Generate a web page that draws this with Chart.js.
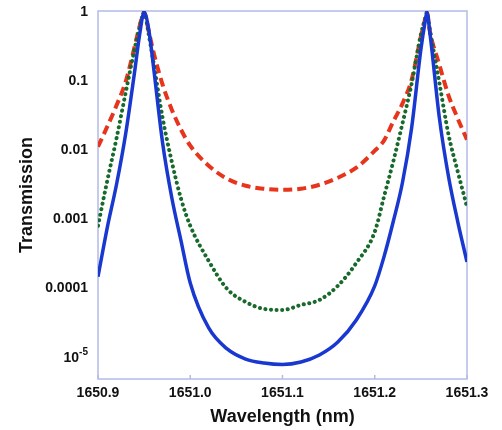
<!DOCTYPE html>
<html>
<head>
<meta charset="utf-8">
<script src="https://cdn.jsdelivr.net/npm/chart.js@4.4.1/dist/chart.umd.min.js"></script>
<style>
  html, body { margin: 0; padding: 0; background: #fff; }
</style>
</head>
<body>
<canvas id="chart" width="502" height="430"></canvas>
<script>
// wavelength samples (nm)
const wavelength = [
  1650.90, 1650.91, 1650.92, 1650.93, 1650.94, 1650.945, 1650.95, 1650.955, 1650.96, 1650.97, 1650.98, 1650.99,
  1651.00, 1651.02, 1651.04, 1651.06, 1651.08, 1651.10, 1651.12, 1651.14, 1651.16, 1651.18, 1651.20,
  1651.21, 1651.22, 1651.23, 1651.24, 1651.25, 1651.255, 1651.2565, 1651.26, 1651.27, 1651.28, 1651.29, 1651.30
];

// blue solid curve
const solidT = [
  1.46e-4, 7.5e-4, 3.16e-3, 0.0174, 0.148, 0.463, 1, 0.566, 0.170, 0.0129, 2.05e-3, 4.85e-4,
  1.19e-4, 2.64e-5, 1.31e-5, 9.35e-6, 8.18e-6, 7.78e-6, 8.46e-6, 1.07e-5, 1.65e-5, 3.45e-5, 1.08e-4,
  2.84e-4, 9.17e-4, 3.38e-3, 0.0213, 0.29, 0.79, 1, 0.479, 0.0298, 4.13e-3, 9.17e-4, 2.40e-4
];

// green dotted curve
const dottedT = [
  8.02e-4, 3.61e-3, 0.01475, 0.0687, 0.310, 0.605, 1, 0.479, 0.194, 0.0298, 6.83e-3, 1.98e-3,
  8.02e-4, 2.48e-4, 9.73e-5, 6.30e-5, 4.99e-5, 4.82e-5, 5.70e-5, 6.73e-5, 1.08e-4, 2.32e-4, 6.56e-4,
  2.12e-3, 6.83e-3, 0.0244, 0.0929, 0.479, 0.846, 1, 0.530, 0.0961, 0.01686, 4.89e-3, 1.51e-3
];

// red dashed curve
const dashedT = [
  0.01128, 0.0220, 0.0445, 0.0993, 0.331, 0.626, 1, 0.530, 0.271, 0.0898, 0.0389, 0.0199,
  0.01166, 5.97e-3, 3.86e-3, 3.06e-3, 2.77e-3, 2.67e-3, 2.77e-3, 3.16e-3, 4.00e-3, 5.59e-3, 9.86e-3,
  0.0138, 0.0260, 0.0476, 0.106, 0.448, 0.846, 1, 0.512, 0.175, 0.0622, 0.0288, 0.01426
];

const xTicks = [1650.9, 1651.0, 1651.1, 1651.2, 1651.3];
const yTickValues = [1e-5, 1e-4, 1e-3, 1e-2, 1e-1, 1];
// null = drawn by hand as 10 with a raised exponent
const yTickLabels = [null, '0.0001', '0.001', '0.01', '0.1', '1'];
const expLabel = { base: '10', exp: '-5', value: 1e-5 };

const toPoints = (ys) => wavelength.map((w, i) => ({ x: w, y: ys[i] }));

const FONT = "'Liberation Sans', Arial, sans-serif";

// light blue box round the plot + small x tick marks inside
const frame = {
  id: 'frame',
  beforeDatasetsDraw(chart) {
    const { ctx, chartArea: a, scales: { x } } = chart;
    ctx.save();
    ctx.strokeStyle = '#b3bbe8';
    ctx.lineWidth = 1.5;
    ctx.strokeRect(a.left, a.top, a.right - a.left, a.bottom - a.top);
    xTicks.forEach(v => {
      const px = x.getPixelForValue(v);
      ctx.beginPath();
      ctx.moveTo(px, a.bottom);
      ctx.lineTo(px, a.bottom - 4);
      ctx.stroke();
    });
    ctx.restore();
  },
  afterDraw(chart) {
    // the 10^-5 tick label with a superscript
    const { ctx, chartArea: a, scales: { y } } = chart;
    const py = y.getPixelForValue(expLabel.value);
    const right = a.left - 10;
    ctx.save();
    ctx.fillStyle = '#111';
    ctx.textBaseline = 'middle';
    ctx.textAlign = 'right';
    ctx.font = 'bold 10px ' + FONT;
    const expW = ctx.measureText(expLabel.exp).width;
    ctx.fillText(expLabel.exp, right, py - 5);
    ctx.font = 'bold 14px ' + FONT;
    ctx.fillText(expLabel.base, right - expW, py + 1);
    ctx.restore();
  }
};

new Chart(document.getElementById('chart').getContext('2d'), {
  type: 'line',
  data: {
    datasets: [
      {
        data: toPoints(solidT),
        borderColor: '#1838d0',
        borderWidth: 3.5,
        cubicInterpolationMode: 'monotone'
      },
      {
        data: toPoints(dottedT),
        borderColor: '#176a2c',
        borderWidth: 4,
        borderDash: [0.1, 5.5],
        borderCapStyle: 'round',
        cubicInterpolationMode: 'monotone'
      },
      {
        data: toPoints(dashedT),
        borderColor: '#e6351c',
        borderWidth: 4,
        borderDash: [9, 5],
        cubicInterpolationMode: 'monotone'
      }
    ]
  },
  options: {
    responsive: false,
    animation: false,
    parsing: false,
    elements: { point: { radius: 0 } },
    layout: { padding: { left: 0, right: 35, top: 11, bottom: 0 } },
    plugins: {
      legend: { display: false },
      tooltip: { enabled: false }
    },
    scales: {
      x: {
        type: 'linear',
        min: 1650.9,
        max: 1651.3,
        border: { display: false },
        grid: { display: false, drawTicks: false },
        afterBuildTicks: (scale) => { scale.ticks = xTicks.map(v => ({ value: v })); },
        afterFit: (scale) => {
          scale.height = 51;
          scale.paddingLeft = 0;
          scale.paddingRight = 0;
        },
        ticks: {
          padding: 6,
          color: '#111',
          font: { family: FONT, size: 14, weight: 'bold' },
          callback: (v) => v.toFixed(1),
          maxRotation: 0
        },
        title: {
          display: true,
          text: 'Wavelength (nm)',
          color: '#111',
          padding: { top: 0, bottom: 2 },
          font: { family: FONT, size: 18, weight: 'bold' }
        }
      },
      y: {
        type: 'logarithmic',
        min: 4.8e-6,
        max: 1.05,
        border: { display: false },
        grid: { display: false, drawTicks: false },
        afterBuildTicks: (scale) => { scale.ticks = yTickValues.map(v => ({ value: v })); },
        afterFit: (scale) => {
          scale.width = 98;
          scale.paddingTop = 0;
          scale.paddingBottom = 0;
        },
        ticks: {
          padding: 10,
          color: '#111',
          font: { family: FONT, size: 14, weight: 'bold' },
          callback: (v) => {
            const i = yTickValues.findIndex(t => Math.abs(Math.log10(t) - Math.log10(v)) < 1e-6);
            return i >= 0 && yTickLabels[i] !== null ? yTickLabels[i] : '';
          }
        },
        title: {
          display: true,
          text: 'Transmission',
          color: '#111',
          padding: { top: 16, bottom: 0 },
          font: { family: FONT, size: 18, weight: 'bold' }
        }
      }
    }
  },
  plugins: [frame]
});
</script>
</body>
</html>
